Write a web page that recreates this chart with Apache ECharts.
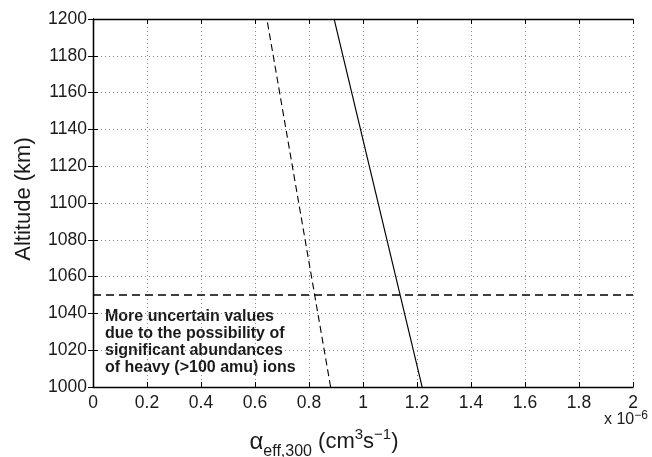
<!DOCTYPE html>
<html>
<head>
<meta charset="utf-8">
<script src="https://cdn.jsdelivr.net/npm/echarts@6/dist/echarts.min.js"></script>
<style>
  html, body { margin: 0; padding: 0; background: #fff; }
  #chart { width: 652px; height: 457px; }
</style>
</head>
<body>
<div id="chart"></div>
<script>
// Effective recombination coefficient (units of 1e-6 cm^3 s^-1) vs altitude
var altitudeKm = [1000, 1200];
var alphaSolid = [1.219, 0.893];
var alphaDashed = [0.880, 0.644];
var thresholdAltitude = 1050;
var xRange = [0, 2];
var xTicks = [0, 0.2, 0.4, 0.6, 0.8, 1, 1.2, 1.4, 1.6, 1.8, 2];
var yTicks = [1000, 1020, 1040, 1060, 1080, 1100, 1120, 1140, 1160, 1180, 1200];
var noteLines = [
  'More uncertain values',
  'due to the possibility of',
  'significant abundances',
  'of heavy (>100 amu) ions'
];

function pairs(xs, ys) {
  return xs.map(function (x, i) { return [x, ys[i]]; });
}

var FONT = '"Liberation Sans", Arial, Helvetica, sans-serif';
var chart = echarts.init(document.getElementById('chart'), null, { renderer: 'canvas' });

var gridLine = { show: true, lineStyle: { color: '#8a8a8a', type: [1, 3], width: 1 } };
var axisLine = { show: true, lineStyle: { color: '#000', width: 1.3 } };
var tickIn = { show: true, inside: true, length: 5, lineStyle: { color: '#000' } };

var option = {
  animation: false,
  backgroundColor: '#fff',
  grid: { left: 93, right: 19, top: 19, bottom: 70, containLabel: false },
  xAxis: [{
    type: 'value', min: xRange[0], max: xRange[1], interval: 0.2,
    axisLine: axisLine, axisTick: tickIn, splitLine: gridLine,
    axisLabel: {
      color: '#1a1a1a', fontFamily: FONT, fontSize: 17.5, margin: 7,
      formatter: function (v) { return String(parseFloat(v.toFixed(1))); }
    }
  }, {
    type: 'value', position: 'top', min: xRange[0], max: xRange[1], interval: 0.2,
    axisLine: axisLine, axisTick: tickIn, splitLine: { show: false }, axisLabel: { show: false }
  }],
  yAxis: [{
    type: 'value', min: yTicks[0], max: yTicks[yTicks.length - 1], interval: 20,
    axisLine: axisLine, axisTick: tickIn, splitLine: gridLine,
    axisLabel: {
      color: '#1a1a1a', fontFamily: FONT, fontSize: 17.5, margin: 6,
      formatter: function (v) { return String(v); }
    }
  }, {
    type: 'value', position: 'right', min: yTicks[0], max: yTicks[yTicks.length - 1], interval: 20,
    axisLine: axisLine, axisTick: tickIn, splitLine: { show: false }, axisLabel: { show: false }
  }],
  series: [{
    type: 'line', data: pairs(alphaSolid, altitudeKm), showSymbol: false,
    lineStyle: { color: '#000', width: 1.1 }, silent: true
  }, {
    type: 'line', data: pairs(alphaDashed, altitudeKm), showSymbol: false,
    lineStyle: { color: '#000', width: 1.1, type: [7, 4] }, silent: true
  }, {
    type: 'line', data: [[xRange[0], thresholdAltitude], [xRange[1], thresholdAltitude]], showSymbol: false,
    lineStyle: { color: '#000', width: 1.3, type: [8, 5] }, silent: true
  }],
  graphic: [{
    type: 'text', left: 105, top: 308,
    style: {
      text: noteLines.join('\n'), fill: '#1a1a1a',
      fontFamily: FONT, fontSize: 16, fontWeight: 'bold', lineHeight: 17
    }
  }, {
    type: 'text', x: 24, y: 199, rotation: Math.PI / 2,
    style: {
      text: 'Altitude (km)', fill: '#1a1a1a', fontFamily: FONT, fontSize: 22,
      align: 'center', verticalAlign: 'middle'
    }
  }, {
    type: 'text', x: 324, y: 442,
    style: {
      text: '{a|α}{sub|eff,300}{b| (cm}{sup|3}{b|s}{sup|−1}{b|)}',
      align: 'center', verticalAlign: 'middle', fill: '#1a1a1a',
      rich: {
        a: { fontFamily: FONT, fontSize: 24, fill: '#1a1a1a' },
        b: { fontFamily: FONT, fontSize: 22, fill: '#1a1a1a' },
        sub: { fontFamily: FONT, fontSize: 16, fill: '#1a1a1a', padding: [20, 0, 0, 0] },
        sup: { fontFamily: FONT, fontSize: 15, fill: '#1a1a1a', padding: [0, 0, 14, 0] }
      }
    }
  }, {
    type: 'text', x: 604, y: 420,
    style: {
      text: '{b|x 10}{sup|−6}', verticalAlign: 'middle', fill: '#1a1a1a',
      rich: {
        b: { fontFamily: FONT, fontSize: 16, fill: '#1a1a1a' },
        sup: { fontFamily: FONT, fontSize: 12, fill: '#1a1a1a', padding: [0, 0, 8, 0] }
      }
    }
  }]
};
chart.setOption(option);
</script>
</body>
</html>
